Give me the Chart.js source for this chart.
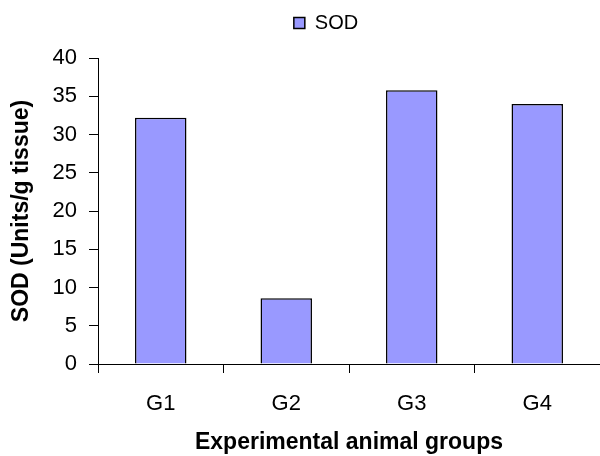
<!DOCTYPE html>
<html>
<head>
<meta charset="utf-8">
<script src="https://cdn.jsdelivr.net/npm/chart.js@4/dist/chart.umd.min.js"></script>
<style>
  html, body { margin: 0; padding: 0; background: #fff; }
  #wrap { width: 600px; height: 456px; }
</style>
</head>
<body>
<div id="wrap"><canvas id="sodChart" width="600" height="456"></canvas></div>
<script>
// --------------------
// Data
// --------------------
const groups = ["G1", "G2", "G3", "G4"];
const sodValues = [32.2, 8.6, 35.8, 34.0];
const yTicks = [0, 5, 10, 15, 20, 25, 30, 35, 40];

const font = "'Liberation Sans', Arial, sans-serif";

// nudge the legend a bit right and up, like the original
const legendShift = {
  id: "legendShift",
  afterLayout(chart) {
    const lg = chart.legend;
    if (!lg) return;
    lg.left += 23; lg.right += 23;
    lg.top -= 15; lg.bottom -= 15;
  }
};

new Chart(document.getElementById("sodChart"), {
  type: "bar",
  data: {
    labels: groups,
    datasets: [
      {
        label: "SOD",
        data: sodValues,
        backgroundColor: "#9999ff",
        borderColor: "#000",
        borderWidth: 1.5,
        categoryPercentage: 1,
        barPercentage: 0.41
      }
    ]
  },
  options: {
    responsive: false,
    animation: false,
    layout: { padding: { top: 18, right: -6, left: 0, bottom: 0 } },
    plugins: {
      tooltip: { enabled: false },
      legend: {
        position: "top",
        labels: {
          color: "#000",
          font: { family: font, size: 20 },
          boxWidth: 11,
          boxHeight: 11,
          padding: 10
        }
      }
    },
    scales: {
      x: {
        offset: true,
        afterFit: (scale) => { scale.height = 92; },
        grid: {
          offset: true,
          drawOnChartArea: false,
          drawTicks: true,
          tickLength: 9,
          color: "#000"
        },
        border: { color: "#000", width: 1 },
        ticks: { color: "#000", font: { family: font, size: 22 }, padding: 18 },
        title: {
          display: true,
          text: "Experimental animal groups",
          color: "#000",
          font: { family: font, size: 23, weight: "bold" },
          padding: { top: 14, bottom: 0 }
        }
      },
      y: {
        min: 0,
        max: 40,
        afterBuildTicks: (scale) => {
          scale.ticks = yTicks.map(v => ({ value: v }));
        },
        afterFit: (scale) => { scale.width = 98; },
        grid: {
          drawOnChartArea: false,
          drawTicks: true,
          tickLength: 9,
          color: "#000"
        },
        border: { color: "#000", width: 1 },
        ticks: { color: "#000", font: { family: font, size: 22 }, padding: 12 },
        title: {
          display: true,
          text: "SOD (Units/g tissue)",
          color: "#000",
          font: { family: font, size: 23, weight: "bold" },
          padding: { top: 8, bottom: 0 }
        }
      }
    }
  },
  plugins: [legendShift]
});
</script>
</body>
</html>
